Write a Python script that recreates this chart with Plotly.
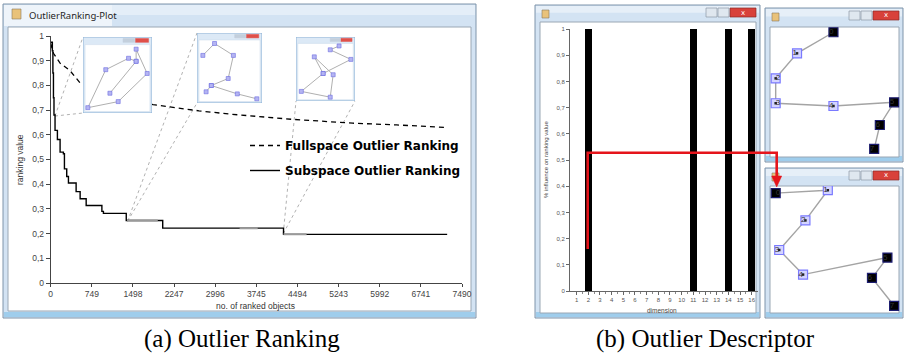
import plotly.graph_objects as go

W, H = 905, 356
def px(x): return x / W
def py(y): return 1 - y / H

# ---------------- data: panel (a) ----------------
rank_x_ticks = [0, 749, 1498, 2247, 2996, 3745, 4494, 5243, 5992, 6741, 7490]
rank_y_ticks = [0, 0.1, 0.2, 0.3, 0.4, 0.5, 0.6, 0.7, 0.8, 0.9, 1]
rank_y_labels = ["0", "0,1", "0,2", "0,3", "0,4", "0,5", "0,6", "0,7", "0,8", "0,9", "1"]

sub_x = [0, 30, 40, 50, 60, 79, 122, 171, 231, 250, 292, 323, 463, 536, 646, 932, 960, 1376, 2040, 4240, 7220]
sub_y = [0.975, 0.94, 0.85, 0.75, 0.68, 0.618, 0.581, 0.53, 0.523, 0.462, 0.431, 0.405, 0.370, 0.341,
         0.314, 0.29, 0.282, 0.253, 0.222, 0.197, 0.197]

full_x = [0, 50, 170, 350, 536, 900, 1300, 1864, 2700, 3300, 4379, 5500, 6300, 7200]
full_y = [0.97, 0.93, 0.89, 0.86, 0.81, 0.77, 0.745, 0.722, 0.697, 0.683, 0.663, 0.647, 0.64, 0.63]

# highlighted (selected) stretches of the subspace curve
hl_x0 = [1390, 3440, 4240]
hl_x1 = [1950, 3770, 4660]
hl_y = [0.253, 0.222, 0.197]

# points where the zoomed insets attach to the curve
conn_x = [78, 1400, 4235]
conn_y = [0.676, 0.25, 0.2]

# inset graphs (normalised coordinates inside each small window)
inset1_u = [0.39, 0.77, 0.66, 0.33, 0.07, 0.51, 0.93, 0.77, 0.77]
inset1_v = [0.74, 0.32, 0.28, 0.43, 0.93, 0.85, 0.48, 0.16, 0.32]
inset2_u = [0.09, 0.27, 0.56, 0.48, 0.22, 0.62, 0.92]
inset2_v = [0.32, 0.15, 0.32, 0.65, 0.75, 0.87, 0.94]
inset2b_u = [0.22, 0.14]
inset2b_v = [0.75, 0.84]
inset3_u = [0.73, 0.58, 0.93, 0.46, 0.09, 0.58, 0.63, 0.31, 0.46]
inset3_v = [0.14, 0.20, 0.35, 0.57, 0.85, 0.94, 0.59, 0.31, 0.57]

# ---------------- data: panel (b) ----------------
dims = list(range(1, 17))
bar_dims = [2, 11, 14, 16]
bar_vals = [1, 1, 1, 1]
infl_ticks = [0, 0.1, 0.2, 0.3, 0.4, 0.5, 0.6, 0.7, 0.8, 0.9, 1]
infl_labels = ["0", "0,1", "0,2", "0,3", "0,4", "0,5", "0,6", "0,7", "0,8", "0,9", "1"]

node_ids = ["0", "1", "2", "3", "4", "5", "6", "7"]
node_outlier = [True, False, False, False, False, True, True, True]
top_u = [49.2, 21.4, 5.1, 5.1, 49.2, 95.5, 84.6, 80.3]
top_v = [4.0, 20.1, 39.2, 58.2, 60.3, 57.5, 74.8, 93.1]
top_pos = ["middle left", "middle left", "middle right", "middle right",
           "middle left", "middle left", "middle left", "middle left"]
bot_u = [5.1, 44.9, 27.8, 7.8, 26.0, 90.4, 78.6, 95.5]
bot_v = [5.6, 3.3, 26.9, 50.0, 69.2, 55.9, 71.8, 93.6]
bot_pos = ["middle right"] + ["middle left"] * 7

# ---------------- geometry (pixels) ----------------
AX0, AX1, AY0, AY1 = 50.7, 462, 283, 36          # main plot area
BX0, BX1, BY0, BY1 = 570, 757.5, 291, 29         # bar plot area
insets = [(83, 37, 152, 113), (197, 33, 262, 103), (296, 37, 355, 101)]
corner_sel = [("tl", "bl"), ("tl", "bl"), ("bl", "br")]
win_c = (769, 27, 900, 158)
win_d = (769, 186, 900, 314)

def ax_px(x): return AX0 + x / 7490 * (AX1 - AX0)
def ay_px(y): return AY0 - y * (AY0 - AY1)

fig = go.Figure()
shapes = []
ann = []

def rect(x0, y0, x1, y1, fill, line=None, lw=1, layer="below"):
    shapes.append(dict(type="rect", xref="paper", yref="paper", x0=px(x0), x1=px(x1), y0=py(y1), y1=py(y0),
                       fillcolor=fill, line=dict(color=line if line else fill, width=lw if line else 0),
                       layer=layer))

def seg(x0, y0, x1, y1, color, lw=1, dash="solid", layer="below"):
    shapes.append(dict(type="line", xref="paper", yref="paper", x0=px(x0), x1=px(x1), y0=py(y0), y1=py(y1),
                       line=dict(color=color, width=lw, dash=dash), layer=layer))

def label(x, y, text, size, family="Liberation Sans", color="#333", angle=0, anchor="center"):
    ann.append(dict(x=px(x), y=py(y), xref="paper", yref="paper", xanchor=anchor, yanchor="middle",
                    text=text, textangle=angle, showarrow=False,
                    font=dict(family=family, size=size, color=color)))

def window(x0, y0, x1, y1, tb, buttons=True):
    rect(x0, y0, x1, y1, "#d3e3f3", "#7f94aa", 1)
    rect(x0 + 1, y0 + 1, x1 - 1, y0 + 0.45 * (tb - y0), "#e6eff8")
    rect(x0 + 1, y1 - 6, x1 - 1, y1 - 1, "#9fcdec")
    rect(x0 + 5, tb, x1 - 4, y1 - 5, "white", "#9aa7b4", 1)
    rect(x0 + 7, y0 + 5, x0 + 14, y0 + 13, "#e9c27a", "#8a7a60", 0.6)
    if buttons:
        bw = 11
        cx1 = x1 - 4
        rect(cx1 - 26, y0 + 3, cx1, y0 + 12, "#d8413a", "#8a2a25", 0.7)
        label(cx1 - 13, y0 + 7.5, "x", 7, family="DejaVu Sans", color="white")
        rect(cx1 - 26 - bw - 1, y0 + 3, cx1 - 27, y0 + 12, "#dfe7ef", "#8c9aa8", 0.7)
        rect(cx1 - 26 - 2 * bw - 2, y0 + 3, cx1 - 28 - bw, y0 + 12, "#dfe7ef", "#8c9aa8", 0.7)

# window (a)
rect(3, 4, 476, 318, "#d3e3f3", "#7f94aa", 1)
rect(4, 5, 475, 15, "#e4eef8")
rect(4, 5, 112, 26, "#eef4fa")
rect(4, 312, 475, 317, "#9fcdec")
rect(8, 27, 471, 311, "white", "#9aa7b4", 1)
rect(12, 9, 21, 19, "#e9c27a", "#8a7a60", 0.6)
label(27, 15, "OutlierRanking-Plot", 9.5, family="Noto Sans", color="#1e1e1e", anchor="left")

# window (b) and the two node windows
window(535, 5, 760, 318, 22)
window(765, 8, 903, 162, 27)
window(765, 168, 903, 318, 186)

# connector lines from curve to insets
for (cx, cy), box, sel in zip(zip(conn_x, conn_y), insets, corner_sel):
    x0c, y0c = ax_px(cx), ay_px(cy)
    corners = {"tl": (box[0], box[1]), "bl": (box[0], box[3]), "br": (box[2], box[3])}
    for s in sel:
        tx, ty = corners[s]
        seg(x0c, y0c, tx, ty, "#a8a8a8", 0.9, "dot")

# ---------------- traces: main ranking plot ----------------
fig.add_trace(go.Scatter(x=full_x, y=full_y, mode="lines", name="<b>Fullspace Outlier Ranking</b>",
                         line=dict(color="black", width=1.3, dash="5px,4px"), legendgroup="f",
                         xaxis="x", yaxis="y"))
fig.add_trace(go.Scatter(x=sub_x, y=sub_y, mode="lines", name="<b>Subspace Outlier Ranking</b>",
                         line=dict(color="black", width=1.4, shape="hv"), legendgroup="s",
                         xaxis="x", yaxis="y"))
for a, b, c in zip(hl_x0, hl_x1, hl_y):
    fig.add_trace(go.Scatter(x=[a, b], y=[c, c], mode="lines", showlegend=False,
                             line=dict(color="#9a9a9a", width=2), xaxis="x", yaxis="y"))

# ---------------- insets ----------------
inset_data = [
    [(inset1_u, inset1_v)],
    [(inset2_u, inset2_v), (inset2b_u, inset2b_v)],
    [(inset3_u, inset3_v)],
]
for i, (box, paths) in enumerate(zip(insets, inset_data)):
    xa, ya = f"x{i + 3}", f"y{i + 3}"
    fig.add_trace(go.Scatter(x=[0, 1, 1, 0, 0], y=[0, 0, 1, 1, 0], fill="toself", fillcolor="#dce9f6",
                             mode="lines", line=dict(color="#8fb3d6", width=1), showlegend=False,
                             xaxis=xa, yaxis=ya, hoverinfo="skip"))
    fig.add_trace(go.Scatter(x=[0.03, 0.97, 0.97, 0.03, 0.03], y=[0.1, 0.1, 0.98, 0.98, 0.1], fill="toself",
                             fillcolor="white", mode="lines", line=dict(color="#c8d8e8", width=0.5),
                             showlegend=False, xaxis=xa, yaxis=ya, hoverinfo="skip"))
    fig.add_trace(go.Scatter(x=[0.76, 0.95, 0.95, 0.76, 0.76], y=[0.02, 0.02, 0.07, 0.07, 0.02], fill="toself",
                             fillcolor="#e0504a", mode="lines", line=dict(color="#e0504a", width=0.5),
                             showlegend=False, xaxis=xa, yaxis=ya, hoverinfo="skip"))
    fig.add_trace(go.Scatter(x=[0.58, 0.75, 0.75, 0.58, 0.58], y=[0.02, 0.02, 0.07, 0.07, 0.02], fill="toself",
                             fillcolor="#c3cfdc", mode="lines", line=dict(color="#c3cfdc", width=0.5),
                             showlegend=False, xaxis=xa, yaxis=ya, hoverinfo="skip"))
    for u, v in paths:
        fig.add_trace(go.Scatter(x=u, y=v, mode="lines+markers", showlegend=False,
                                 line=dict(color="#b0b0b0", width=1),
                                 marker=dict(symbol="square", size=4, color="#b4b4f2",
                                             line=dict(color="#6c6ce0", width=0.6)),
                                 xaxis=xa, yaxis=ya, hoverinfo="skip"))

# ---------------- bar chart ----------------
fig.add_trace(go.Bar(x=bar_dims, y=bar_vals, width=0.63, marker=dict(color="black", line=dict(width=0)),
                     showlegend=False, xaxis="x2", yaxis="y2"))

# ---------------- node windows ----------------
def node_graph(u, v, pos, xa, ya):
    fig.add_trace(go.Scatter(x=u, y=v, mode="lines", line=dict(color="#a4a4a4", width=1.4),
                             showlegend=False, xaxis=xa, yaxis=ya, hoverinfo="skip"))
    nu = [a for a, o in zip(u, node_outlier) if not o]
    nv = [b for b, o in zip(v, node_outlier) if not o]
    ou = [a for a, o in zip(u, node_outlier) if o]
    ov = [b for b, o in zip(v, node_outlier) if o]
    fig.add_trace(go.Scatter(x=nu, y=nv, mode="markers", showlegend=False, xaxis=xa, yaxis=ya,
                             marker=dict(symbol="square", size=9, color="#d4d4ff",
                                         line=dict(color="#7a7aff", width=1.2))))
    fig.add_trace(go.Scatter(x=nu, y=nv, mode="markers", showlegend=False, xaxis=xa, yaxis=ya,
                             marker=dict(symbol="square", size=2.5, color="#222")))
    fig.add_trace(go.Scatter(x=ou, y=ov, mode="markers", showlegend=False, xaxis=xa, yaxis=ya,
                             marker=dict(symbol="square", size=9, color="black",
                                         line=dict(color="#1c1c70", width=1.2))))
    fig.add_trace(go.Scatter(x=u, y=v, mode="text", text=node_ids, textposition=pos, showlegend=False,
                             textfont=dict(family="Liberation Sans", size=8, color="#333"),
                             xaxis=xa, yaxis=ya, hoverinfo="skip"))

node_graph(top_u, top_v, top_pos, "x6", "y6")
node_graph(bot_u, bot_v, bot_pos, "x7", "y7")

# red arrow
shapes.append(dict(type="path", xref="paper", yref="paper", layer="above",
                   path=f"M {px(587.7)},{py(249)} L {px(587.7)},{py(152.7)} L {px(776.7)},{py(152.7)} "
                        f"L {px(776.7)},{py(177)}",
                   line=dict(color="#e5141b", width=2.6)))
shapes.append(dict(type="path", xref="paper", yref="paper", layer="above",
                   path=f"M {px(771.7)},{py(176)} L {px(781.7)},{py(176)} L {px(776.7)},{py(187)} Z",
                   fillcolor="#e5141b", line=dict(color="#e5141b", width=0.5)))

# axis titles & captions
label(20, 160, "ranking value", 8.5, angle=-90)
label(255, 306, "no. of ranked objects", 8.5)
label(546, 160, "% influence on ranking value", 6, color="#444", angle=-90)
label(662, 310, "dimension", 6.5, color="#444")
label(242, 339, "(a) Outlier Ranking", 25, family="Liberation Serif", color="black")
label(705, 339, "(b) Outlier Descriptor", 25, family="Liberation Serif", color="black")

hidden = dict(visible=False, fixedrange=True, automargin=False)
layout_axes = {}
for i, box in enumerate(insets):
    layout_axes[f"xaxis{i + 3}"] = dict(domain=[px(box[0]), px(box[2])], range=[0, 1], anchor=f"y{i + 3}", **hidden)
    layout_axes[f"yaxis{i + 3}"] = dict(domain=[py(box[3]), py(box[1])], range=[1, 0], anchor=f"x{i + 3}", **hidden)
for k, box in ((6, win_c), (7, win_d)):
    layout_axes[f"xaxis{k}"] = dict(domain=[px(box[0]), px(box[2])], range=[0, 100], anchor=f"y{k}", **hidden)
    layout_axes[f"yaxis{k}"] = dict(domain=[py(box[3]), py(box[1])], range=[100, 0], anchor=f"x{k}", **hidden)

fig.update_layout(
    width=W, height=H, autosize=False,
    margin=dict(l=0, r=0, t=0, b=0, autoexpand=False),
    paper_bgcolor="white", plot_bgcolor="rgba(0,0,0,0)",
    xaxis=dict(domain=[px(AX0), px(AX1)], range=[0, 7490], tickvals=rank_x_ticks,
               ticktext=[str(t) for t in rank_x_ticks], showgrid=False, zeroline=False, automargin=False,
               showline=True, linecolor="#444", linewidth=1, ticks="outside", ticklen=3, tickcolor="#444",
               tickfont=dict(family="Liberation Sans", size=8.5, color="#444"), anchor="y", fixedrange=True),
    yaxis=dict(domain=[py(AY0), py(AY1)], range=[0, 1], tickvals=rank_y_ticks, ticktext=rank_y_labels,
               showgrid=False, zeroline=False, showline=True, linecolor="#444", linewidth=1, automargin=False,
               ticks="outside", ticklen=4, tickcolor="#444",
               tickfont=dict(family="Liberation Sans", size=8.5, color="#444"), anchor="x", fixedrange=True),
    xaxis2=dict(domain=[px(BX0), px(BX1)], range=[0.43, 16.5], tickvals=dims, ticktext=[str(d) for d in dims],
                showgrid=False, zeroline=False, showline=True, linecolor="#666", linewidth=1, automargin=False,
                ticks="outside", ticklen=3, tickcolor="#666",
                minor=dict(tickvals=[d + 0.5 for d in dims[:-1]], ticks="outside", ticklen=2, tickcolor="#888"),
                tickfont=dict(family="Liberation Sans", size=6, color="#555"), anchor="y2", fixedrange=True),
    yaxis2=dict(domain=[py(BY0), py(BY1)], range=[0, 1], tickvals=infl_ticks, ticktext=infl_labels,
                showgrid=False, zeroline=False, showline=True, linecolor="#666", linewidth=1, automargin=False,
                ticks="outside", ticklen=3, tickcolor="#666",
                tickfont=dict(family="Liberation Sans", size=6, color="#555"), anchor="x2", fixedrange=True),
    showlegend=True,
    legend=dict(x=px(245), y=py(131), xanchor="left", yanchor="top", bgcolor="rgba(0,0,0,0)",
                font=dict(family="DejaVu Sans", size=12, color="black"), traceorder="grouped",
                tracegroupgap=6, itemwidth=30),
    shapes=shapes, annotations=ann, bargap=0,
    **layout_axes,
)

fig.write_html("out.html", config={"displayModeBar": False},
               post_script="document.body.style.margin='0';")
